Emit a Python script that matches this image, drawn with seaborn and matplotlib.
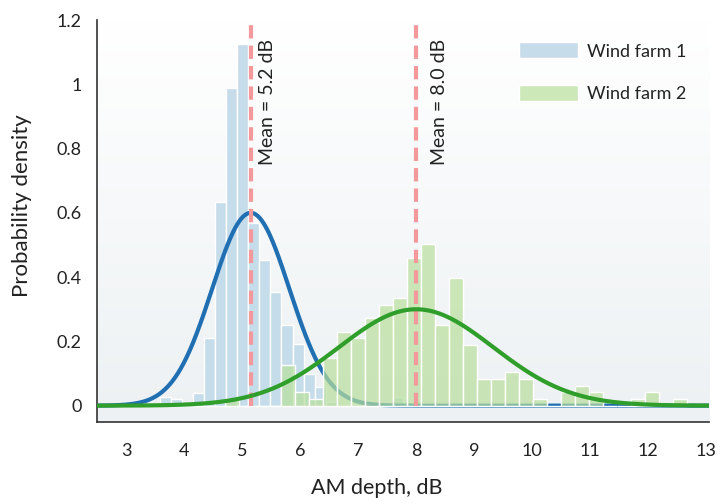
import numpy as np
import pandas as pd
import matplotlib
matplotlib.use("Agg")
import matplotlib.pyplot as plt
from matplotlib.colors import LinearSegmentedColormap
import seaborn as sns

sns.set_theme(style="white")
plt.rcParams["font.family"] = ["Lato", "DejaVu Sans"]

# Wind farm 1: histogram (density per bin)
wf1_bin_start = 3.578
wf1_bin_width = 0.191
wf1_density = [0.028, 0.020, 0.0, 0.038, 0.212, 0.635, 0.989, 1.124, 0.567, 0.453,
               0.355, 0.251, 0.192, 0.100, 0.057, 0.010, 0.0, 0.0, 0.0, 0.0,
               0.0, 0.026, 0.0, 0.0, 0.0, 0.0, 0.0, 0.0, 0.0, 0.0,
               0.0, 0.0, 0.0, 0.0, 0.0, 0.0, 0.006, 0.0, 0.0, 0.0, 0.006]

# Wind farm 2: histogram (density per bin)
wf2_bin_start = 4.71
wf2_bin_width = 0.2414
wf2_density = [0.021, 0.0, 0.0, 0.0, 0.127, 0.042, 0.021, 0.147, 0.230, 0.210,
               0.272, 0.313, 0.334, 0.460, 0.502, 0.251, 0.398, 0.189, 0.083, 0.083,
               0.104, 0.083, 0.021, 0.0, 0.042, 0.062, 0.042, 0.0, 0.0, 0.021,
               0.042, 0.0, 0.021]

# Fitted normal distributions (mean, standard deviation), dB
wf1_mean, wf1_sd = 5.15, 0.665
wf2_mean, wf2_sd = 8.0, 1.33

labels = ["Wind farm 1", "Wind farm 2"]
x_ticks = [3, 4, 5, 6, 7, 8, 9, 10, 11, 12, 13]
y_ticks = [0, 0.2, 0.4, 0.6, 0.8, 1.0, 1.2]
y_ticklabels = ["0", "0.2", "0.4", "0.6", "0.8", "1", "1.2"]

blue_bar = "#c3dbea"
green_bar = "#b9df9c"
blue_line = "#1f6fb2"
green_line = "#2f9e2a"
mean_color = "#f4999b"
text_color = "#222222"

fig = plt.figure(figsize=(7.17, 5.03), dpi=100)
ax = fig.add_axes([0.1353, 0.1616, 0.8537, 0.7986])
xlim = (2.5, 13.05)
ylim = (-0.05, 1.2)

# soft vertical gradient behind the plot: white at the top, pale grey-blue below
grad = np.linspace(1, 0, 256).reshape(-1, 1)
cmap = LinearSegmentedColormap.from_list("bg", ["#edf1f3", "#ffffff"])
ax.imshow(grad, extent=[xlim[0], xlim[1], ylim[0], ylim[1]], aspect="auto",
          cmap=cmap, zorder=0, origin="upper")


def hist_layer(start, width, dens, color, alpha, label, z):
    n = len(dens)
    centers = start + width * (np.arange(n) + 0.5)
    df = pd.DataFrame({"depth": centers, "density": dens})
    sns.histplot(data=df, x="depth", weights="density", binwidth=width,
                 binrange=(start, start + width * n), stat="count", ax=ax,
                 color=color, alpha=alpha, edgecolor="white", linewidth=1.0,
                 label=label, zorder=z)


def normal_pdf(x, m, s):
    return np.exp(-0.5 * ((x - m) / s) ** 2) / (s * np.sqrt(2 * np.pi))


grid = np.linspace(xlim[0], xlim[1], 600)

hist_layer(wf1_bin_start, wf1_bin_width, wf1_density, blue_bar, 0.95, labels[0], 1)
sns.lineplot(x=grid, y=normal_pdf(grid, wf1_mean, wf1_sd), ax=ax, color=blue_line,
             linewidth=3.0, zorder=2)
hist_layer(wf2_bin_start, wf2_bin_width, wf2_density, green_bar, 0.7, labels[1], 3)

for m, dx in [(wf1_mean, 0.15), (wf2_mean, 0.26)]:
    ax.plot([m, m], [0, 1.2], color=mean_color, linewidth=3.0,
            dashes=(3.2, 1.7), zorder=4, clip_on=False)
    ax.text(m + dx, 1.14, f"Mean = {m:.1f} dB", rotation=90, ha="left", va="top",
            fontsize=14, color=text_color, zorder=6)

sns.lineplot(x=grid, y=normal_pdf(grid, wf2_mean, wf2_sd), ax=ax, color=green_line,
             linewidth=3.0, zorder=5)

ax.set_xlim(*xlim)
ax.set_ylim(*ylim)
ax.set_xticks(x_ticks)
ax.set_xticklabels([str(t) for t in x_ticks])
ax.set_yticks(y_ticks)
ax.set_yticklabels(y_ticklabels)
ax.tick_params(axis="both", direction="out", length=5, width=1.2, colors="#333333",
               labelsize=13, labelcolor=text_color, pad=6)
ax.tick_params(axis="x", pad=10)

for side in ["top", "right"]:
    ax.spines[side].set_visible(False)
for side in ["left", "bottom"]:
    ax.spines[side].set_color("#333333")
    ax.spines[side].set_linewidth(1.2)

ax.set_xlabel("AM depth, dB", fontsize=15.5, color=text_color)
ax.xaxis.set_label_coords(0.457, -0.14)
ax.set_ylabel("Probability density", fontsize=16, color=text_color)
ax.yaxis.set_label_coords(-0.107, 0.539)

leg = ax.legend(loc="upper right", frameon=False, fontsize=13, handlelength=3.3,
                handleheight=1.0, labelspacing=1.4, handletextpad=0.5,
                bbox_to_anchor=(0.99, 0.985))
for t in leg.get_texts():
    t.set_color(text_color)

fig.savefig("out.png", dpi=100)
